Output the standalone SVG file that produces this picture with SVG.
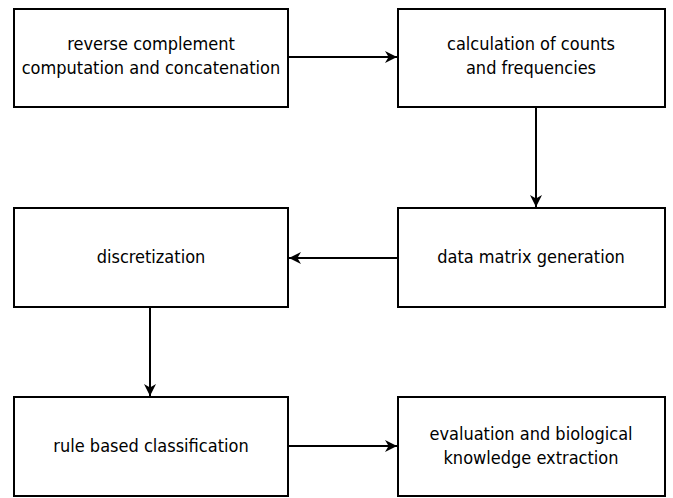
<svg xmlns="http://www.w3.org/2000/svg" width="673" height="498" viewBox="0 0 673 498">
<defs>
<style>
.box{fill:#fff;stroke:#000;stroke-width:2}
.t{font-family:"DejaVu Sans Condensed","DejaVu Sans",sans-serif;font-size:18px;text-anchor:middle;fill:#000}
.c{stroke:#000;stroke-width:2;fill:none;marker-end:url(#ah)}
</style>
<marker id="ah" viewBox="0 0 10 10" refX="10" refY="5" markerWidth="12" markerHeight="12" markerUnits="userSpaceOnUse" orient="auto"><path d="M0,0 L10,5 L0,10 L3,5 z" fill="#000"/></marker>
</defs>
<rect width="673" height="498" fill="#fff"/>
<g id="n1"><rect class="box" x="14" y="9" width="274" height="98"/><text class="t" x="151" y="50">reverse complement</text><text class="t" x="151" y="74">computation and concatenation</text></g>
<g id="n2"><rect class="box" x="398" y="9" width="267" height="98"/><text class="t" x="531" y="50">calculation of counts</text><text class="t" x="531" y="74">and frequencies</text></g>
<g id="n3"><rect class="box" x="398" y="208" width="267" height="99"/><text class="t" x="531" y="263">data matrix generation</text></g>
<g id="n4"><rect class="box" x="14" y="208" width="274" height="99"/><text class="t" x="151" y="263">discretization</text></g>
<g id="n5"><rect class="box" x="14" y="397" width="274" height="99"/><text class="t" x="151" y="452">rule based classification</text></g>
<g id="n6"><rect class="box" x="398" y="397" width="267" height="99"/><text class="t" x="531" y="440">evaluation and biological</text><text class="t" x="531" y="464">knowledge extraction</text></g>
<g id="connectors">
<line class="c" x1="288" y1="57" x2="397" y2="57"/>
<line class="c" x1="536" y1="107" x2="536" y2="207"/>
<line class="c" x1="398" y1="258" x2="289" y2="258"/>
<line class="c" x1="150" y1="307" x2="150" y2="396"/>
<line class="c" x1="288" y1="446" x2="397" y2="446"/>
</g>
</svg>
